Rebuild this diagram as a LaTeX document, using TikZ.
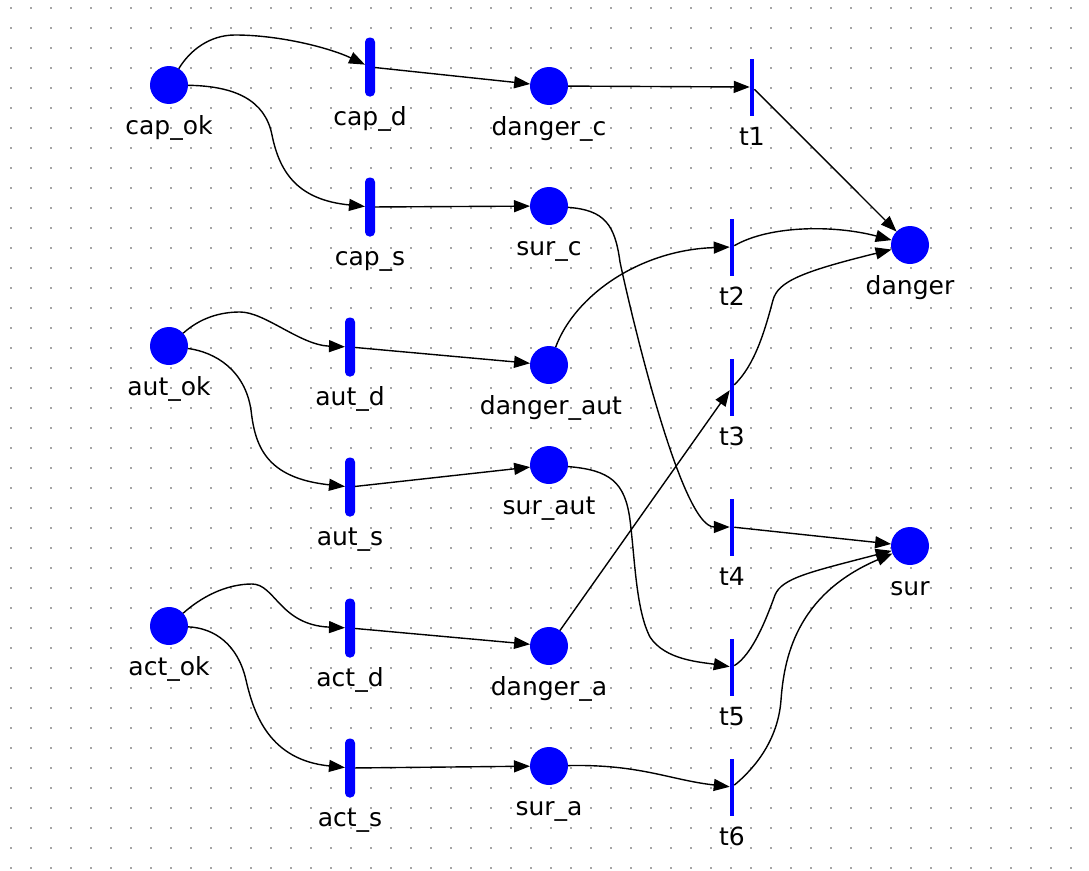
\documentclass[tikz,border=0pt]{standalone}
\usepackage{fontspec}
\setmainfont{DejaVu Sans}
\usetikzlibrary{arrows.meta}
\definecolor{pblue}{RGB}{0,0,255}
\definecolor{dotc}{RGB}{165,165,165}
\begin{document}
\begin{tikzpicture}[x=1pt,y=-1pt,
  place/.style={circle,fill=pblue,inner sep=0pt,outer sep=0pt,minimum size=38pt},
  trthick/.style={rectangle,fill=pblue,inner sep=0pt,outer sep=0pt,minimum width=10pt,minimum height=59pt,rounded corners=4.5pt},
  trthin/.style={rectangle,fill=pblue,inner sep=0pt,outer sep=0pt,minimum width=4.5pt,minimum height=57pt},
  lbl/.style={anchor=base,inner sep=0pt,font=\fontsize{25}{25}\selectfont},
  conn/.style={draw=black,line width=1.4pt,-{Triangle[length=16pt,width=12pt]}}
]
\useasboundingbox (0,0) rectangle (1089,870);
\fill[white] (0,0) rectangle (1089,870);
\foreach \i in {0,...,53}{
  \foreach \j in {0,...,43}{
    \fill[dotc] ({10.1+20*\i},{7.1+20*\j}) rectangle ++(1.8,1.8);
  }
}
% places
\node[place] (cap_ok) at (169,85) {};
\node[place] (aut_ok) at (169,346) {};
\node[place] (act_ok) at (169,626) {};
\node[place] (danger_c) at (549,86) {};
\node[place] (sur_c) at (549,206) {};
\node[place] (danger_aut) at (549,365) {};
\node[place] (sur_aut) at (549,465) {};
\node[place] (danger_a) at (549,646) {};
\node[place] (sur_a) at (549,766) {};
\node[place] (danger) at (910,245) {};
\node[place] (sur) at (910,546) {};
% transitions
\node[trthick] (cap_d) at (370,67) {};
\node[trthick] (cap_s) at (370,207) {};
\node[trthick] (aut_d) at (350,347) {};
\node[trthick] (aut_s) at (350,487) {};
\node[trthick] (act_d) at (350,628) {};
\node[trthick] (act_s) at (350,768) {};
\node[trthin] (t1) at (752,87) {};
\node[trthin] (t2) at (732,247) {};
\node[trthin] (t3) at (732,387) {};
\node[trthin] (t4) at (732,527) {};
\node[trthin] (t5) at (732,667) {};
\node[trthin] (t6) at (732,787) {};
% labels
\node[lbl] (l_cap_ok) at (169,134) {cap\_ok};
\node[lbl] (l_aut_ok) at (169,395) {aut\_ok};
\node[lbl] (l_act_ok) at (169,675) {act\_ok};
\node[lbl] (l_danger_c) at (549,135) {danger\_c};
\node[lbl] (l_sur_c) at (549,255) {sur\_c};
\node[lbl] (l_danger_aut) at (551,414) {danger\_aut};
\node[lbl] (l_sur_aut) at (549,514) {sur\_aut};
\node[lbl] (l_danger_a) at (549,695) {danger\_a};
\node[lbl] (l_sur_a) at (549,815) {sur\_a};
\node[lbl] (l_danger) at (910,294) {danger};
\node[lbl] (l_sur) at (910,595) {sur};
\node[lbl] (l_cap_d) at (370,125) {cap\_d};
\node[lbl] (l_cap_s) at (370,265) {cap\_s};
\node[lbl] (l_aut_d) at (350,405) {aut\_d};
\node[lbl] (l_aut_s) at (350,545) {aut\_s};
\node[lbl] (l_act_d) at (350,686) {act\_d};
\node[lbl] (l_act_s) at (350,826) {act\_s};
\node[lbl] (l_t1) at (752,145) {t1};
\node[lbl] (l_t2) at (732,305) {t2};
\node[lbl] (l_t3) at (732,445) {t3};
\node[lbl] (l_t4) at (732,585) {t4};
\node[lbl] (l_t5) at (732,725) {t5};
\node[lbl] (l_t6) at (732,845) {t6};
% connectors: left part
\draw[conn] (cap_ok) .. controls (190,50) and (210,35) .. (235,35) .. controls (280,35) and (330,48) .. (cap_d);
\draw[conn] (cap_ok) .. controls (235,86) and (265,100) .. (272,135) .. controls (280,175) and (300,200) .. (cap_s);
\draw[conn] (aut_ok) .. controls (200,318) and (220,312) .. (240,312) .. controls (265,312) and (300,345) .. (aut_d);
\draw[conn] (aut_ok) .. controls (215,352) and (245,370) .. (251,410) .. controls (255,445) and (265,478) .. (aut_s);
\draw[conn] (act_ok) .. controls (200,598) and (225,584) .. (252,584) .. controls (275,584) and (280,625) .. (act_d);
\draw[conn] (act_ok) .. controls (215,628) and (238,645) .. (246,680) .. controls (254,715) and (270,760) .. (act_s);
% transitions to middle places
\draw[conn] (cap_d) -- (danger_c);
\draw[conn] (cap_s) -- (sur_c);
\draw[conn] (aut_d) -- (danger_aut);
\draw[conn] (aut_s) -- (sur_aut);
\draw[conn] (act_d) -- (danger_a);
\draw[conn] (act_s) -- (sur_a);
% middle places to right transitions
\draw[conn] (danger_c) -- (t1);
\draw[conn] (sur_c) .. controls (605,210) and (615,225) .. (620,262) .. controls (628,300) and (680,527) .. (t4);
\draw[conn] (danger_aut) .. controls (575,295) and (640,250) .. (t2);
\draw[conn] (sur_aut) .. controls (610,470) and (625,482) .. (630,520) .. controls (635,560) and (636,610) .. (650,637) .. controls (665,660) and (700,662) .. (t5);
\draw[conn] (danger_a) -- (t3);
\draw[conn] (sur_a) .. controls (640,764) and (670,780) .. (t6);
% right transitions to outputs
\draw[conn] (t1) -- (danger);
\draw[conn] (t2) .. controls (770,225) and (835,225) .. (danger);
\draw[conn] (t3) .. controls (755,365) and (765,330) .. (773,300) .. controls (778,282) and (800,272) .. (danger);
\draw[conn] (t4) -- (sur);
\draw[conn] (t5) .. controls (752,655) and (766,620) .. (775,595) .. controls (782,578) and (810,572) .. (sur);
\draw[conn] (t6) .. controls (755,768) and (778,740) .. (781,700) .. controls (784,660) and (795,595) .. (sur);
\end{tikzpicture}
\end{document}
